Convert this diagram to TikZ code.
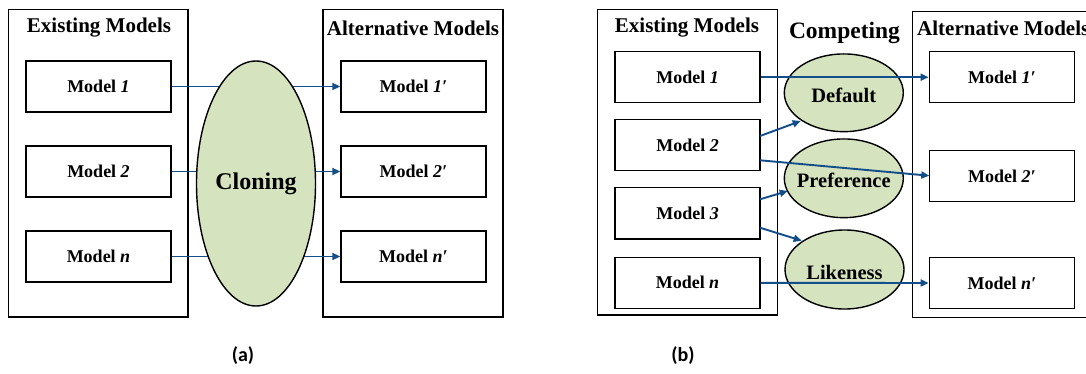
\documentclass[tikz,border=0pt]{standalone}
\usepackage{fontspec}
\setmainfont{Liberation Serif}
\newfontfamily\capfont{Carlito}
\usetikzlibrary{arrows.meta,shapes.geometric}
\definecolor{arrowblue}{RGB}{18,78,138}
\definecolor{ellgreen}{RGB}{213,227,190}
\tikzset{
  outerbox/.style={draw=black,line width=1.4pt,fill=white},
  modelbox/.style={draw=black,line width=1.4pt,fill=white,minimum width=145pt,minimum height=51pt,inner sep=0pt,font=\fontsize{18}{20}\selectfont\bfseries},
  titletext/.style={font=\fontsize{21}{24}\selectfont\bfseries,inner sep=0pt},
  ellnode/.style={ellipse,draw=black,line width=1.4pt,fill=ellgreen,inner sep=0pt},
  elltext/.style={font=\fontsize{20.5}{24}\selectfont\bfseries,inner sep=0pt},
  flow/.style={draw=arrowblue,line width=1.9pt,-{Triangle[length=8pt,width=7pt]}},
  captext/.style={font=\capfont\fontsize{20}{24}\selectfont\bfseries,inner sep=0pt}
}
\begin{document}
\begin{tikzpicture}[x=1pt,y=-1pt]
\clip (0,0) rectangle (1086,374);
\fill[white] (0,0) rectangle (1086,374);
% ---------- panel (a) ----------
\node[outerbox,minimum width=179.5pt,minimum height=307.5pt,inner sep=0pt] (aL) at (98.25,163.25) {};
\node[outerbox,minimum width=180pt,minimum height=307.5pt,inner sep=0pt] (aR) at (413,163.25) {};
\node[titletext] (aLt) at (99,28) {Existing Models};
\node[titletext] (aRt) at (413,28) {Alternative Models};
\node[modelbox] (a1) at (98.5,86.5) {Model \textit{1}};
\node[modelbox] (a2) at (98.5,171.5) {Model \textit{2}};
\node[modelbox] (a3) at (98.5,256.5) {Model \textit{n}};
\node[modelbox] (b1) at (413.5,86.5) {Model \textit{1′}};
\node[modelbox] (b2) at (413.5,171.5) {Model \textit{2′}};
\node[modelbox] (b3) at (413.5,256.5) {Model \textit{n′}};
\draw[flow] (a1.east) -- (b1.west);
\draw[flow] (a2.east) -- (b2.west);
\draw[flow] (a3.east) -- (b3.west);
\node[ellnode,minimum width=119pt,minimum height=245pt] (clone) at (256,183.5) {};
\node[font=\fontsize{24}{28}\selectfont\bfseries,inner sep=0pt] (clonet) at (256,183.5) {Cloning};
% ---------- panel (b) ----------
\node[outerbox,minimum width=180.4pt,minimum height=305.7pt,inner sep=0pt] (cL) at (687.5,162.2) {};
\node[outerbox,minimum width=190pt,minimum height=305.6pt,inner sep=0pt] (cR) at (1007.3,164.5) {};
\node[titletext] (cLt) at (687,28) {Existing Models};
\node[titletext,anchor=west] (cRt) at (917,28) {Alternative Models};
\node[font=\fontsize{23.5}{26}\selectfont\bfseries,inner sep=0pt] (comp) at (844.5,33) {Competing};
\node[modelbox] (c1) at (687.5,77.2) {Model \textit{1}};
\node[modelbox] (c2) at (687.5,145.2) {Model \textit{2}};
\node[modelbox] (c3) at (687.5,213.3) {Model \textit{3}};
\node[modelbox] (c4) at (687.5,282.8) {Model \textit{n}};
\node[modelbox] (d1) at (1001.8,77.2) {Model \textit{1′}};
\node[modelbox] (d2) at (1001.8,176.2) {Model \textit{2′}};
\node[modelbox] (d3) at (1001.8,283) {Model \textit{n′}};
\node[ellnode,minimum width=119pt,minimum height=77.7pt] (def) at (843.8,92.8) {};
\node[ellnode,minimum width=119pt,minimum height=78.7pt] (pref) at (843.8,178.3) {};
\node[ellnode,minimum width=119pt,minimum height=79pt] (like) at (844.5,269.5) {};
\node[elltext] (deft) at (843.8,95) {Default};
\node[elltext] (preft) at (843.8,180) {Preference};
\node[elltext] (liket) at (844.5,272.5) {Likeness};
\coordinate (c2a) at (760,136);
\coordinate (c2b) at (760,160.3);
\coordinate (c3a) at (760,199.3);
\coordinate (c3b) at (760,227.7);
\coordinate (d2in) at (929.3,175.7);
\coordinate (defin) at (800.7,121);
\coordinate (prefin) at (787.7,191);
\coordinate (likein) at (801.7,240.7);
\draw[flow] (c1.east) -- (d1.west);
\draw[flow] (c2a) -- (defin);
\draw[flow] (c2b) -- (d2in);
\draw[flow] (c3a) -- (prefin);
\draw[flow] (c3b) -- (likein);
\draw[flow] (c4.east) -- (d3.west);
% ---------- captions ----------
\node[captext] (capa) at (243,356) {(a)};
\node[captext] (capb) at (683,356) {(b)};
\end{tikzpicture}
\end{document}
